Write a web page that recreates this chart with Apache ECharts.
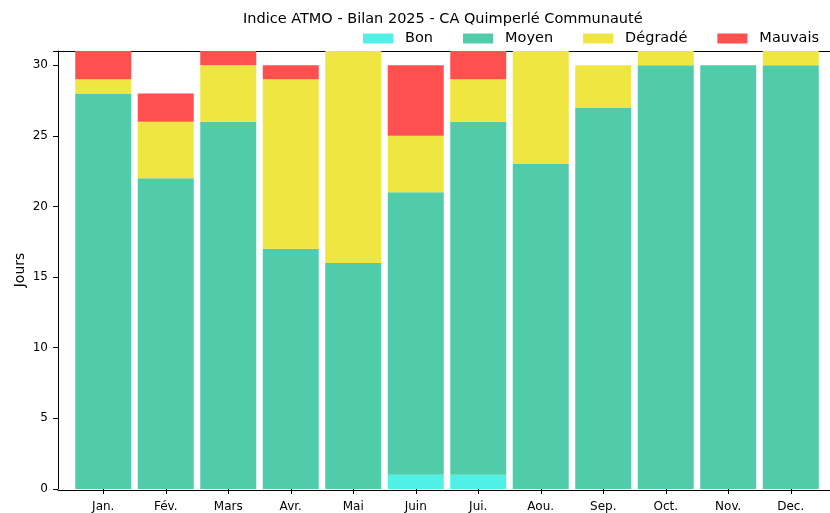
<!DOCTYPE html>
<html>
<head>
<meta charset="utf-8">
<script src="https://cdn.jsdelivr.net/npm/echarts@6/dist/echarts.min.js"></script>
<style>
  html, body { margin: 0; padding: 0; background: #fff; }
  #chart { width: 830px; height: 513px; }
</style>
</head>
<body>
<div id="chart"></div>
<script>
// données
var months = ["Jan.", "Fév.", "Mars", "Avr.", "Mai", "Juin", "Jui.", "Aou.", "Sep.", "Oct.", "Nov.", "Dec."];
var bon     = [0, 0, 0, 0, 0, 1, 1, 0, 0, 0, 0, 0];
var moyen   = [28, 22, 26, 17, 16, 20, 25, 23, 27, 30, 30, 30];
var degrade = [1, 4, 4, 12, 15, 4, 3, 8, 3, 1, 0, 1];
var mauvais = [2, 2, 1, 1, 0, 5, 2, 0, 0, 0, 0, 0];

var FONT = "DejaVu Sans";

function barSeries(name, arr, color) {
  return {
    name: name,
    type: "bar",
    stack: "jours",
    barWidth: 56,
    data: arr,
    itemStyle: { color: color },
    emphasis: { disabled: true }
  };
}

var chart = echarts.init(document.getElementById("chart"));
chart.setOption({
  animation: false,
  textStyle: { fontFamily: FONT },
  title: {
    text: "Indice ATMO - Bilan 2025 - CA Quimperlé Communauté",
    left: 238,
    top: 7,
    textStyle: { fontFamily: FONT, fontSize: 14.5, fontWeight: "normal", color: "#000" }
  },
  legend: {
    right: 6,
    top: 26,
    itemWidth: 30,
    itemHeight: 10,
    itemGap: 30,
    icon: "rect",
    textStyle: { fontFamily: FONT, fontSize: 14.5, color: "#000", padding: [0, 0, 0, 7] },
    data: ["Bon", "Moyen", "Dégradé", "Mauvais"]
  },
  grid: [
    { left: 72, right: 8, top: 51, bottom: 23 },
    // cadre : axes bas et haut sur toute la largeur
    { left: 58, right: 0, top: 51, bottom: 23 }
  ],
  xAxis: [
    {
      type: "category",
      gridIndex: 0,
      data: months,
      axisLine: { show: false },
      axisTick: { show: true, alignWithLabel: true, length: 5, lineStyle: { color: "#000" } },
      axisLabel: { margin: 12, fontSize: 12, color: "#000", fontFamily: FONT }
    },
    {
      type: "value",
      gridIndex: 1,
      min: 0,
      max: 1,
      splitLine: { show: false },
      axisLine: { show: true, lineStyle: { color: "#000", width: 1 } },
      axisTick: { show: false },
      axisLabel: { show: false }
    },
    {
      type: "value",
      gridIndex: 1,
      position: "top",
      min: 0,
      max: 1,
      splitLine: { show: false },
      axisLine: { show: true, lineStyle: { color: "#000", width: 1 } },
      axisTick: { show: false },
      axisLabel: { show: false }
    }
  ],
  yAxis: [
    {
      type: "value",
      gridIndex: 0,
      min: 0,
      max: 31,
      interval: 5,
      offset: 14,
      name: "Jours",
      nameLocation: "middle",
      nameGap: 31,
      nameMoveOverlap: false,
      nameTextStyle: { fontFamily: FONT, fontSize: 14, color: "#000" },
      splitLine: { show: false },
      axisLine: { show: true, onZero: false, lineStyle: { color: "#000", width: 1 } },
      axisTick: { show: true, length: 5, lineStyle: { color: "#000" } },
      axisLabel: {
        fontSize: 12, color: "#000", fontFamily: FONT, margin: 10,
        formatter: function (v) { return v > 30 ? "" : v; }
      }
    },
    {
      type: "value",
      gridIndex: 1,
      show: false
    }
  ],
  series: [
    barSeries("Bon", bon, "#50F0E6"),
    barSeries("Moyen", moyen, "#50CCAA"),
    barSeries("Dégradé", degrade, "#F0E641"),
    barSeries("Mauvais", mauvais, "#FF5050")
  ]
});
</script>
</body>
</html>
